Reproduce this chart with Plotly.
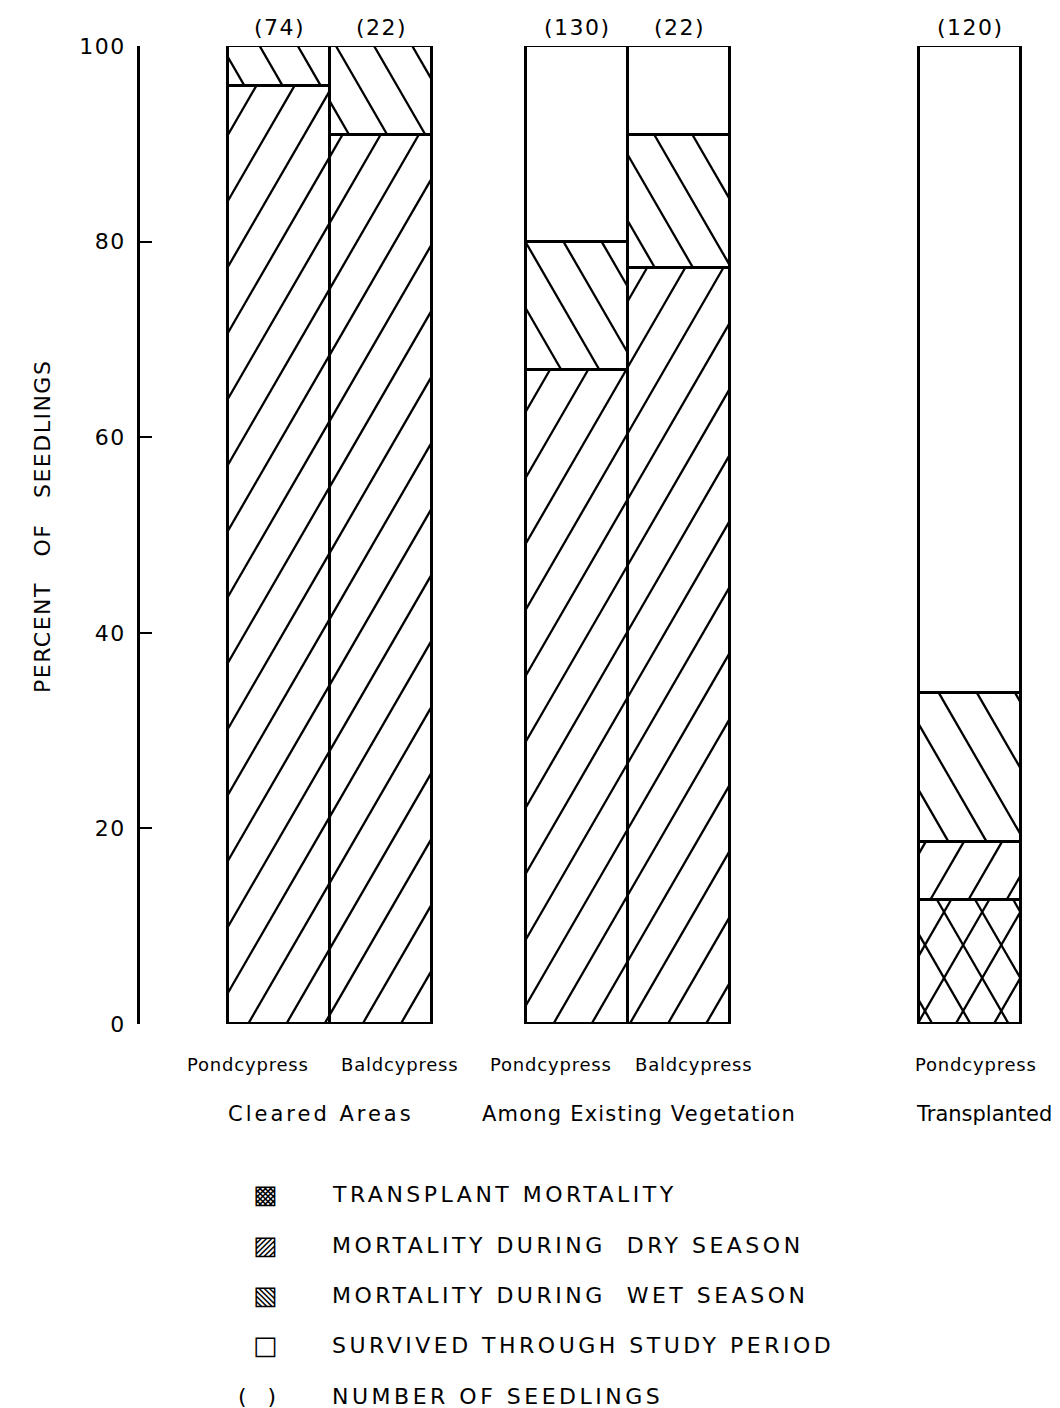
import math
import plotly.graph_objects as go

# ---- data -------------------------------------------------------------
species = ["Pondcypress", "Baldcypress", "Pondcypress", "Baldcypress", "Pondcypress"]
groups = ["Cleared Areas", "Among Existing Vegetation", "Transplanted"]
group_of_bar = [0, 0, 1, 1, 2]
n_seedlings = [74, 22, 130, 22, 120]

transplant_mort = [0, 0, 0, 0, 12.7]
dry_mort = [95.9, 90.9, 66.9, 77.3, 5.9]
wet_mort = [4.1, 9.1, 13.1, 13.6, 15.2]
survived = [0, 0, 20.0, 9.1, 66.2]

segment_names = ["TRANSPLANT MORTALITY", "MORTALITY DURING  DRY SEASON",
                 "MORTALITY DURING  WET SEASON", "SURVIVED THROUGH STUDY PERIOD"]
count_note = "NUMBER OF SEEDLINGS"
y_ticks = [0, 20, 40, 60, 80, 100]

# ---- layout constants ---------------------------------------------------
W, H = 1060, 1408
ML, MR, MT, MB = 140, 15, 46, 384
X_RANGE = (0.0, 9.05)
bar_pos = [1.39, 2.41, 4.37, 5.39, 8.30]
BAR_W = 1.02
species_shift = [-31, 18, -26, 14, 6]
group_shift = [-9, 11, 14]
group_spacing = [3.0, 1.2, 0.0]
FONT = "DejaVu Sans"

plot_w = W - ML - MR
plot_h = H - MT - MB
sx = plot_w / (X_RANGE[1] - X_RANGE[0])   # px per x unit
sy = plot_h / 100.0                       # px per percent


def spaced(text, px):
    """Wrap text in a span with extra letter spacing (lettering-guide look)."""
    return f'<span style="letter-spacing:{px}px">{text}</span>'


def hatch_lines(rects, direction, spacing=66.0, slope=1.73, phase=0.0):
    """Parallel hatch segments clipped to data rectangles (direction +1 = '/', -1 = '\\')."""
    xs, ys = [], []
    m = slope * direction
    for x0, x1, y0, y1 in rects:
        if y1 - y0 <= 0:
            continue
        X0, X1 = (x0 - X_RANGE[0]) * sx, (x1 - X_RANGE[0]) * sx
        Y0, Y1 = y0 * sy, y1 * sy
        cs = [Y - m * X for X in (X0, X1) for Y in (Y0, Y1)]
        kmin = math.ceil((min(cs) - phase) / spacing)
        kmax = math.floor((max(cs) - phase) / spacing)
        for k in range(kmin, kmax + 1):
            c = phase + k * spacing
            a, b = (Y0 - c) / m, (Y1 - c) / m
            lo, hi = max(X0, min(a, b)), min(X1, max(a, b))
            if hi - lo < 0.5:
                continue
            xs += [lo / sx + X_RANGE[0], hi / sx + X_RANGE[0], None]
            ys += [(m * lo + c) / sy, (m * hi + c) / sy, None]
    return xs, ys


# segment rectangles for each stacked layer
layers = [transplant_mort, dry_mort, wet_mort, survived]
rects = [[] for _ in layers]
for i, xc in enumerate(bar_pos):
    base = 0.0
    for li, layer in enumerate(layers):
        v = layer[i]
        rects[li].append((xc - BAR_W / 2, xc + BAR_W / 2, base, base + v))
        base += v

fig = go.Figure()

for name, layer in zip(segment_names, layers):
    fig.add_trace(go.Bar(
        x=bar_pos, y=layer, width=BAR_W, name=name,
        marker=dict(color="white", line=dict(color="black", width=2.8)),
        cliponaxis=False, showlegend=False, hoverinfo="skip",
    ))

hatch_specs = [
    (rects[0], +1, 41.0),   # transplant: cross-hatch
    (rects[0], -1, 51.0),
    (rects[1], +1, 11.0),   # dry season: '/'
    (rects[2], -1, 63.0),   # wet season: '\'
]
for rr, d, ph in hatch_specs:
    hx, hy = hatch_lines(rr, d, phase=ph)
    fig.add_trace(go.Scatter(
        x=hx, y=hy, mode="lines", line=dict(color="black", width=2.3),
        cliponaxis=False, showlegend=False, hoverinfo="skip",
    ))

ann = []
# seedling counts above the bars
for xc, n in zip(bar_pos, n_seedlings):
    ann.append(dict(x=xc, y=100, xref="x", yref="y", text=spaced(f"({n})", 1.5),
                    showarrow=False, xanchor="center", yanchor="middle", yshift=19,
                    font=dict(size=22, family=FONT, color="black")))
# species labels
for xc, s, sh in zip(bar_pos, species, species_shift):
    ann.append(dict(x=xc, y=0, xref="x", yref="y", text=spaced(s, 0.8), showarrow=False,
                    xanchor="center", yanchor="middle", xshift=sh, yshift=-40,
                    font=dict(size=18, family=FONT, color="black")))
# group labels
for gi, g in enumerate(groups):
    members = [bar_pos[i] for i in range(len(bar_pos)) if group_of_bar[i] == gi]
    gx = sum(members) / len(members)
    ann.append(dict(x=gx, y=0, xref="x", yref="y", text=spaced(g, group_spacing[gi]),
                    showarrow=False, xanchor="center", yanchor="middle",
                    xshift=group_shift[gi], yshift=-90,
                    font=dict(size=21, family=FONT, color="black")))

# y-axis title
ann.append(dict(x=(42 - ML) / plot_w, y=(H - MB - 527) / plot_h, xref="paper", yref="paper",
                text=spaced("PERCENT\u00a0\u00a0\u00a0OF\u00a0\u00a0\u00a0SEEDLINGS", 1.5),
                textangle=-90, xanchor="center", yanchor="middle",
                showarrow=False, font=dict(size=22, family=FONT, color="black")))

# key below the chart
key_symbols = ["\u25a9", "\u25a8", "\u25a7", "\u25a1", "(\u00a0\u00a0\u00a0)"]
key_sym_x = [265, 265, 265, 265, 257]
key_texts = segment_names + [count_note]
key_rows_px = [1194, 1245, 1295, 1345, 1396]
for sym, sxp, txt, py in zip(key_symbols, key_sym_x, key_texts, key_rows_px):
    yp = (H - MB - py) / plot_h
    ann.append(dict(x=(sxp - ML) / plot_w, y=yp, xref="paper", yref="paper", text=sym,
                    showarrow=False, xanchor="center", yanchor="middle",
                    font=dict(size=26 if sym != key_symbols[-1] else 22,
                              family=FONT, color="black")))
    ann.append(dict(x=(330 - ML) / plot_w, y=yp, xref="paper", yref="paper",
                    text=spaced(txt.replace(" ", "\u00a0"), 3.5), xanchor="left",
                    yanchor="middle", showarrow=False,
                    font=dict(size=22, family=FONT, color="black")))

fig.update_layout(
    width=W, height=H,
    margin=dict(l=ML, r=MR, t=MT, b=MB),
    paper_bgcolor="white", plot_bgcolor="white",
    barmode="stack", bargap=0,
    annotations=ann,
    xaxis=dict(range=list(X_RANGE), visible=False),
    yaxis=dict(range=[0, 100], tickvals=y_ticks,
               ticktext=[spaced(str(v), 1.5) for v in y_ticks],
               ticks="inside", ticklen=12,
               tickwidth=2, tickcolor="black", showline=True, linewidth=2.8,
               linecolor="black", showgrid=False, zeroline=False,
               ticklabelstandoff=7,
               tickfont=dict(size=22, family=FONT, color="black")),
    font=dict(family=FONT, color="black"),
)

fig.write_html("out.html")
